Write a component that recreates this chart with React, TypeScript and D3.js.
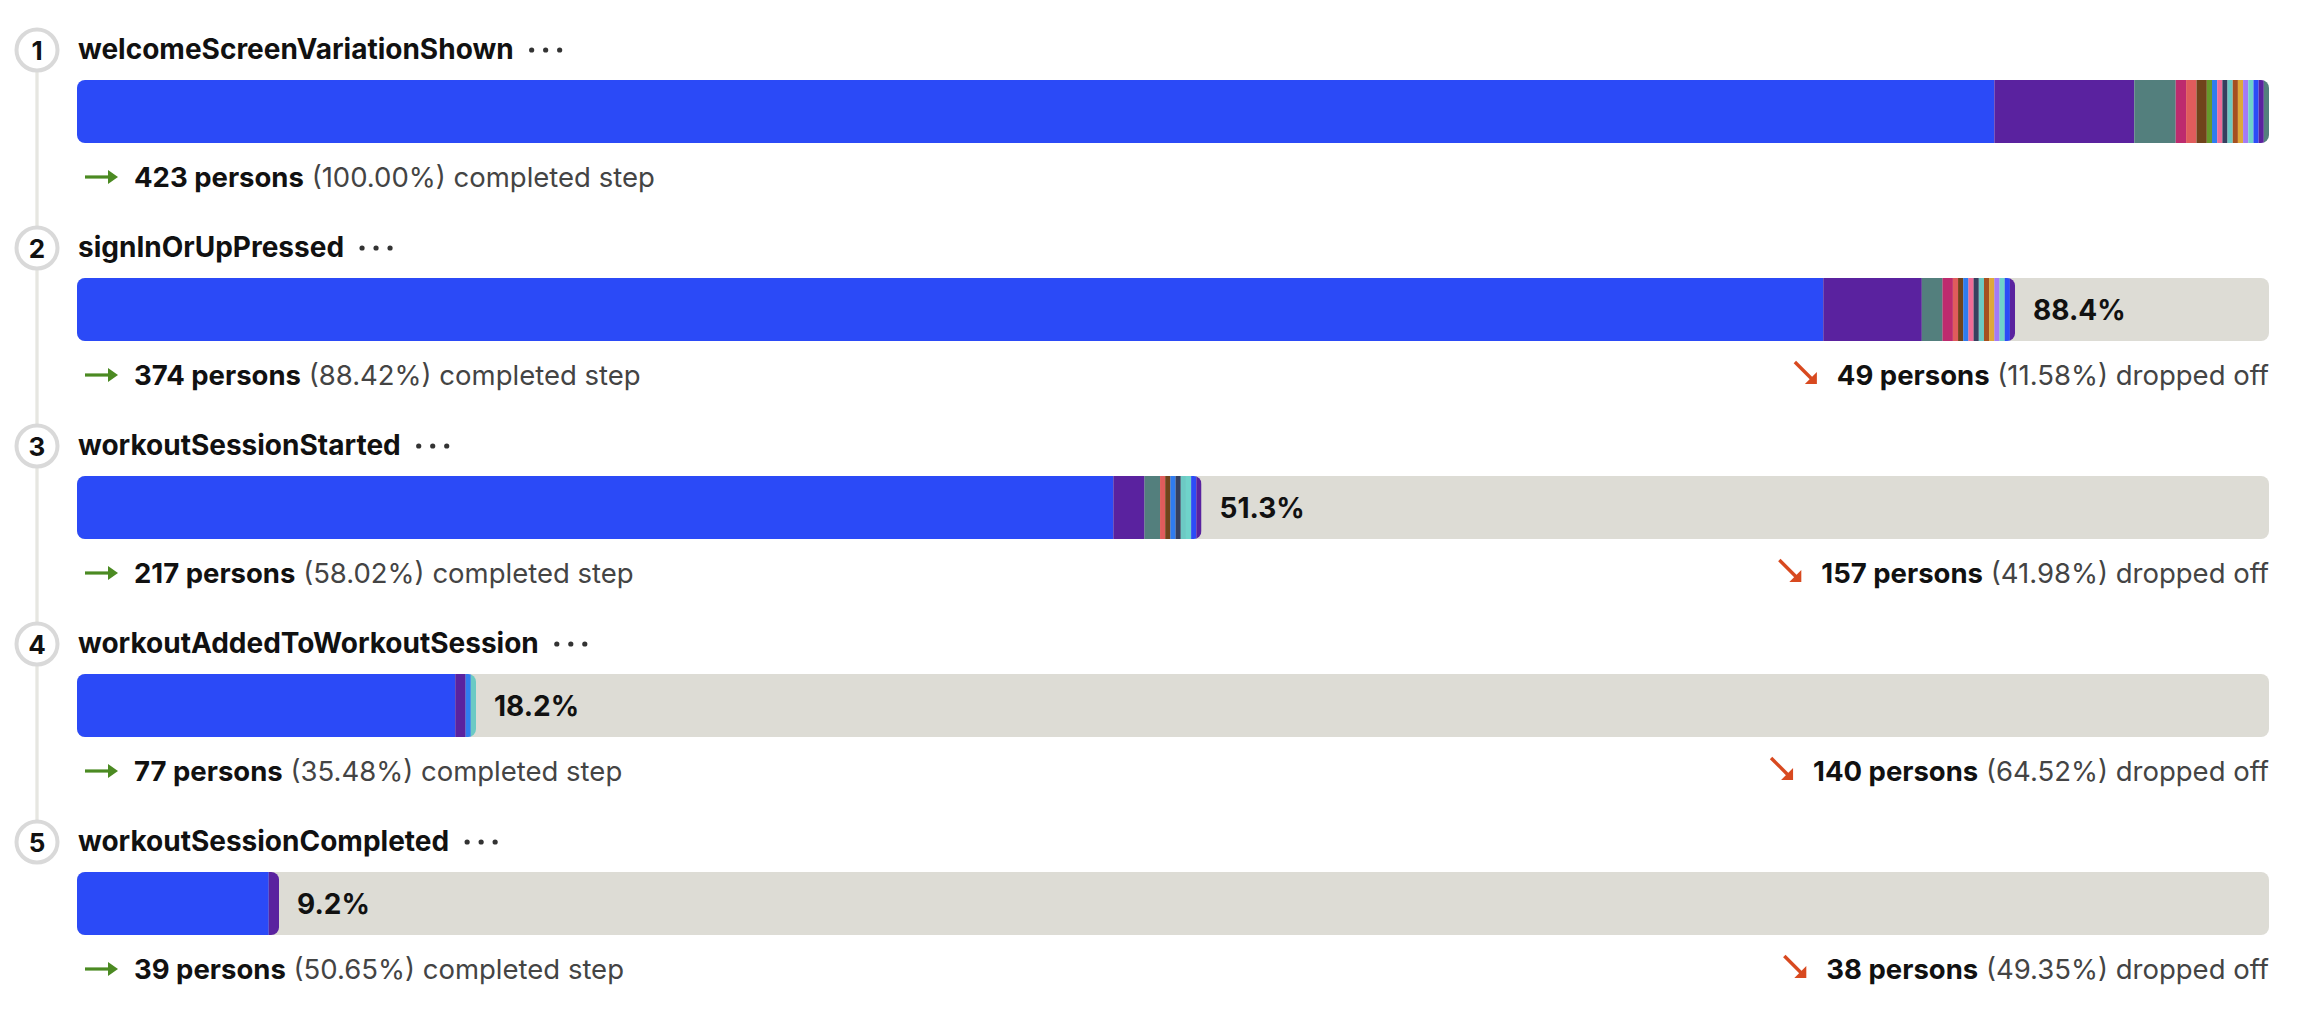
import React, { useEffect, useRef } from "react";
import * as d3 from "d3";

// ---- data ----
const stepNames = [
  "welcomeScreenVariationShown",
  "signInOrUpPressed",
  "workoutSessionStarted",
  "workoutAddedToWorkoutSession",
  "workoutSessionCompleted",
];
const breakdownColors = [
  "#2b4af7", "#5a229f", "#537f7d", "#bd2b6e", "#e05c5c", "#70441b",
  "#669a2b", "#2f7cf0", "#ef6c98", "#36405f", "#6ccac4", "#a6501f",
  "#dea83a", "#a37af7", "#6fd3ca", "#2c4bf7", "#5a229f", "#537f7d",
];
const step1Counts = [370, 27, 8, 2, 2, 2, 1, 1, 1, 1, 1, 1, 1, 1, 1, 1, 1, 1];
const step2Counts = [337, 19, 4, 2, 1, 1, 0, 1, 1, 1, 1, 1, 1, 1, 1, 1, 1, 0];
const step3Counts = [200, 6, 3, 0, 1, 1, 0, 1, 0, 1, 1, 0, 0, 0, 1, 1, 1, 0];
const step4Counts = [73, 2, 0, 0, 0, 0, 0, 1, 0, 0, 1, 0, 0, 0, 0, 0, 0, 0];
const step5Counts = [37, 2, 0, 0, 0, 0, 0, 0, 0, 0, 0, 0, 0, 0, 0, 0, 0, 0];
const stepCounts = [step1Counts, step2Counts, step3Counts, step4Counts, step5Counts];
const stepTotals = [423, 374, 217, 77, 39];
const barLabels = ["", "88.4%", "51.3%", "18.2%", "9.2%"];
const completedPct = ["100.00%", "88.42%", "58.02%", "35.48%", "50.65%"];
const droppedCounts = [0, 49, 157, 140, 38];
const droppedPct = ["", "11.58%", "41.98%", "64.52%", "49.35%"];

const W = 2302;
const H = 1012;
const FONT = "Inter, 'Noto Sans', sans-serif";

export default function App() {
  const ref = useRef<SVGSVGElement | null>(null);

  useEffect(() => {
    const svg = d3.select(ref.current);
    svg.selectAll("*").remove();

    const barX0 = 77;
    const barX1 = 2269;
    const x = d3.scaleLinear().domain([0, stepTotals[0]]).range([barX0, barX1]);
    const stepY = d3.scaleLinear().domain([0, 4]).range([0, 792]);

    const cx = 37;
    // timeline
    svg.append("line")
      .attr("x1", cx).attr("x2", cx)
      .attr("y1", 50).attr("y2", 50 + stepY(4))
      .attr("stroke", "#e6e6e1").attr("stroke-width", 3.3);

    const defs = svg.append("defs");

    stepNames.forEach((name, i) => {
      const off = stepY(i);
      const g = svg.append("g");

      // number circle
      g.append("circle")
        .attr("cx", cx).attr("cy", 50 + off).attr("r", 20.5)
        .attr("fill", "#fff").attr("stroke", "#d9d9d9").attr("stroke-width", 4);
      g.append("text")
        .attr("x", cx).attr("y", 50 + off)
        .attr("text-anchor", "middle").attr("dominant-baseline", "central")
        .attr("font-family", FONT).attr("font-weight", 700).attr("font-size", 26)
        .attr("fill", "#111").text(String(i + 1));

      // title
      const title = g.append("text")
        .attr("x", 78).attr("y", 59 + off)
        .attr("font-family", FONT).attr("font-weight", 700).attr("font-size", 28)
        .attr("fill", "#111").text(name);
      const tw = (title.node() as SVGTextElement).getComputedTextLength();
      [0, 1, 2].forEach((k) => {
        g.append("circle")
          .attr("cx", 78 + tw + 18 + k * 14).attr("cy", 50 + off)
          .attr("r", 2.6).attr("fill", "#333");
      });

      // bar
      const by = 80 + off;
      const bh = 63;
      if (i > 0) {
        g.append("rect")
          .attr("x", barX0).attr("y", by).attr("width", barX1 - barX0).attr("height", bh)
          .attr("rx", 8).attr("fill", "#dddcd5");
      }
      const total = stepTotals[i];
      const clipId = `clip-${i}`;
      defs.append("clipPath").attr("id", clipId)
        .append("rect")
        .attr("x", barX0).attr("y", by).attr("width", x(total) - barX0).attr("height", bh)
        .attr("rx", 8);
      const stacked: { start: number; end: number; color: string }[] = [];
      let acc = 0;
      stepCounts[i].forEach((c, k) => {
        if (c > 0) {
          stacked.push({ start: acc, end: acc + c, color: breakdownColors[k] });
          acc += c;
        }
      });
      g.append("g").attr("clip-path", `url(#${clipId})`)
        .selectAll("rect").data(stacked).enter().append("rect")
        .attr("x", (d) => x(d.start)).attr("y", by)
        .attr("width", (d) => x(d.end) - x(d.start)).attr("height", bh)
        .attr("fill", (d) => d.color);

      if (barLabels[i]) {
        g.append("text")
          .attr("x", x(total) + 18).attr("y", by + bh / 2)
          .attr("dominant-baseline", "central")
          .attr("font-family", FONT).attr("font-weight", 700).attr("font-size", 28)
          .attr("fill", "#111").text(barLabels[i]);
      }

      // footer left
      const fy = 187 + off;
      const ay = fy - 10;
      g.append("line")
        .attr("x1", 85).attr("x2", 110).attr("y1", ay).attr("y2", ay)
        .attr("stroke", "#4b8a22").attr("stroke-width", 3.2);
      g.append("path")
        .attr("d", `M108,${ay - 7} L118,${ay} L108,${ay + 7} Z`)
        .attr("fill", "#4b8a22");
      const ft = g.append("text")
        .attr("x", 134).attr("y", fy)
        .attr("font-family", FONT).attr("font-size", 27.5).attr("fill", "#444");
      ft.append("tspan").attr("font-weight", 700).attr("fill", "#111")
        .text(`${total} persons`);
      ft.append("tspan").text(` (${completedPct[i]}) completed step`);

      // footer right
      if (i > 0) {
        const rt = g.append("text")
          .attr("x", barX1).attr("y", fy).attr("text-anchor", "end")
          .attr("font-family", FONT).attr("font-size", 27.5).attr("fill", "#444");
        rt.append("tspan").attr("font-weight", 700).attr("fill", "#111")
          .text(`${droppedCounts[i]} persons`);
        rt.append("tspan").text(` (${droppedPct[i]}) dropped off`);
        const rw = (rt.node() as SVGTextElement).getComputedTextLength();
        const tx = barX1 - rw - 20;
        const ty = fy - 1;
        g.append("line")
          .attr("x1", tx - 22).attr("y1", ty - 22).attr("x2", tx - 4).attr("y2", ty - 4)
          .attr("stroke", "#d8491f").attr("stroke-width", 3.4);
        g.append("path")
          .attr("d", `M${tx},${ty} L${tx - 12},${ty} L${tx},${ty - 12} Z`)
          .attr("fill", "#d8491f");
      }
    });
  }, []);

  return (
    <div style={{ position: "absolute", left: 0, top: 0, width: W, height: H, background: "#fff" }}>
      <svg ref={ref} width={W} height={H} />
    </div>
  );
}
